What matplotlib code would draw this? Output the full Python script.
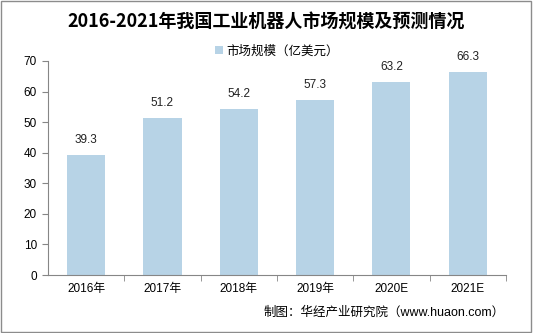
import matplotlib.pyplot as plt
from matplotlib.patches import Rectangle

plt.rcParams['font.family'] = ['Liberation Sans', 'Noto Sans CJK SC']

years = ['2016年', '2017年', '2018年', '2019年', '2020E', '2021E']
market = [39.3, 51.2, 54.2, 57.3, 63.2, 66.3]

bar_color = '#b7d3e6'
axis_color = '#868686'

fig = plt.figure(figsize=(5.33, 3.33), dpi=100)
ax = fig.add_axes([0.090, 0.174, 0.859, 0.643])

x = list(range(len(years)))
ax.bar(x, market, width=0.5, color=bar_color, label='市场规模（亿美元）')
for i, v in zip(x, market):
    ax.text(i, v + 3, '%.1f' % v, ha='center', va='bottom', fontsize=8.5, color='#222222')

ax.set_xlim(-0.5, len(years) - 0.5)
ax.set_ylim(0, 70)
ax.set_yticks(range(0, 71, 10))
ax.set_xticks(x)
ax.set_xticklabels(years)
ax.set_xticks([i + 0.5 for i in x], minor=True)
ax.tick_params(axis='x', which='major', length=0, labelsize=8.5, pad=6)
ax.tick_params(axis='x', which='minor', length=4, color=axis_color)
ax.tick_params(axis='y', length=4, color=axis_color, labelsize=8.5, pad=4)
for s in ['top', 'right']:
    ax.spines[s].set_visible(False)
ax.spines['left'].set_color(axis_color)
ax.spines['bottom'].set_color(axis_color)

fig.text(0.5, 0.934, '2016-2021年我国工业机器人市场规模及预测情况', ha='center', va='center',
         fontsize=13, fontweight='bold', family=['Noto Sans CJK SC'])
ax.legend(loc='center', bbox_to_anchor=(0.5, 1.045), frameon=False, fontsize=9,
          handlelength=0.6, handleheight=0.6, handletextpad=0.3, borderpad=0)
fig.text(0.947, 0.06, '制图：华经产业研究院（www.huaon.com）', ha='right', va='center', fontsize=9)

fig.patches.append(Rectangle((0.002, 0.003), 0.994, 0.994, transform=fig.transFigure,
                             fill=False, edgecolor='#8c8c8c', linewidth=1))

fig.savefig('out.png', dpi=100)
